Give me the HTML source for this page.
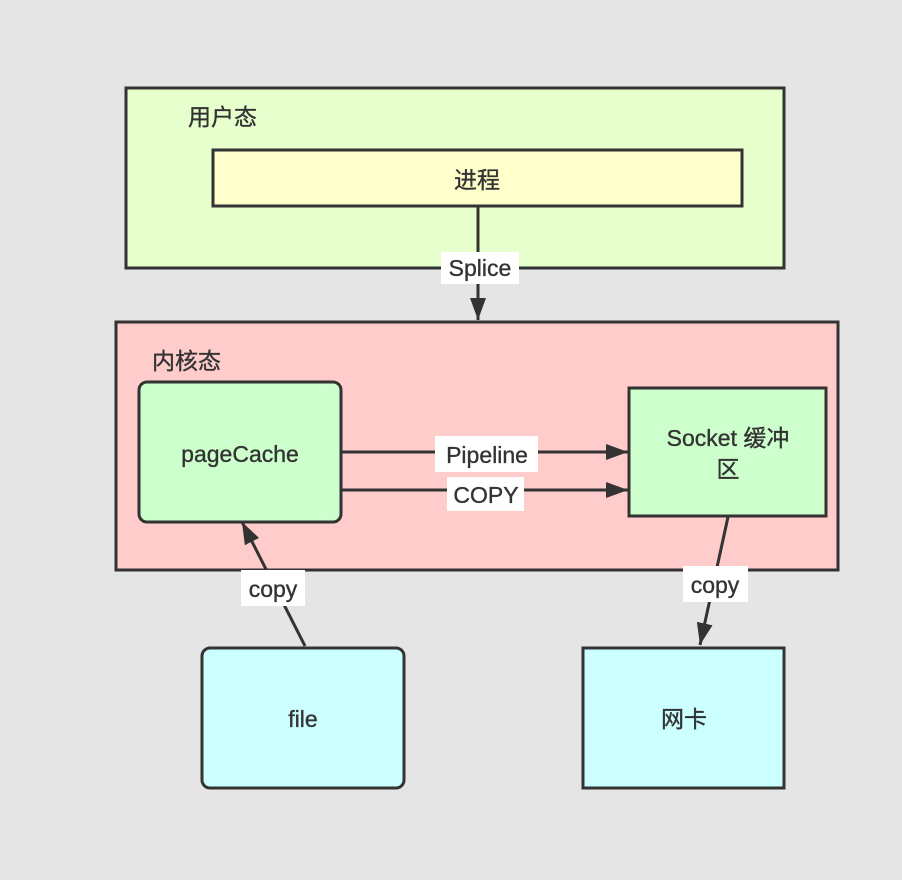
<!DOCTYPE html>
<html><head><meta charset="utf-8"><style>
html,body{margin:0;padding:0;background:#e5e5e5;}
svg{display:block;}
text{font-family:"Liberation Sans","Noto Sans CJK SC",sans-serif;fill:#333;stroke:#333;stroke-width:0.35;}
</style></head><body>
<svg width="902" height="880" viewBox="0 0 902 880" xmlns="http://www.w3.org/2000/svg">
<defs>
<marker id="a" viewBox="0 0 22 16" refX="22" refY="8" markerWidth="22" markerHeight="16" markerUnits="userSpaceOnUse" orient="auto">
<path d="M0,0 L22,8 L0,16 z" fill="#333"/>
</marker>
</defs>
<rect x="0" y="0" width="902" height="880" fill="#e5e5e5"/>
<rect x="126" y="88" width="658" height="180" fill="#e6ffcc" stroke="#333" stroke-width="3"/>
<text x="188" y="125" font-size="23">用户态</text>
<rect x="213" y="150" width="529" height="56" fill="#ffffcc" stroke="#333" stroke-width="3"/>
<text x="477" y="188" font-size="23" text-anchor="middle">进程</text>

<rect x="116" y="322" width="722" height="248" fill="#ffcccc" stroke="#333" stroke-width="3"/>
<text x="152" y="369" font-size="23">内核态</text>
<rect x="139" y="382" width="202" height="140" rx="8" fill="#ccffcc" stroke="#333" stroke-width="3"/>
<text x="240" y="462" font-size="23" text-anchor="middle">pageCache</text>
<rect x="629" y="388" width="197" height="128" fill="#ccffcc" stroke="#333" stroke-width="3"/>
<text x="728" y="446" font-size="23" text-anchor="middle">Socket 缓冲</text>
<text x="728" y="477" font-size="23" text-anchor="middle">区</text>

<rect x="202" y="648" width="202" height="140" rx="8" fill="#ccffff" stroke="#333" stroke-width="3"/>
<text x="303" y="727" font-size="23" text-anchor="middle">file</text>
<rect x="583" y="648" width="201" height="140" fill="#ccffff" stroke="#333" stroke-width="3"/>
<text x="684" y="727" font-size="23" text-anchor="middle">网卡</text>

<line x1="478" y1="206" x2="478" y2="320" stroke="#333" stroke-width="3" marker-end="url(#a)"/>
<line x1="341" y1="452" x2="628" y2="452" stroke="#333" stroke-width="3" marker-end="url(#a)"/>
<line x1="341" y1="490" x2="628" y2="490" stroke="#333" stroke-width="3" marker-end="url(#a)"/>
<line x1="305" y1="646" x2="242" y2="522" stroke="#333" stroke-width="3" marker-end="url(#a)"/>
<line x1="728" y1="517" x2="700" y2="645" stroke="#333" stroke-width="3" marker-end="url(#a)"/>

<rect x="441" y="252" width="78" height="32" fill="#fff"/>
<text x="480" y="276" font-size="23" text-anchor="middle">Splice</text>
<rect x="435" y="436" width="103" height="36" fill="#fff"/>
<text x="487" y="463" font-size="23" text-anchor="middle">Pipeline</text>
<rect x="447" y="477" width="77" height="34" fill="#fff"/>
<text x="486" y="503" font-size="23" text-anchor="middle">COPY</text>
<rect x="241" y="570" width="64" height="36" fill="#fff"/>
<text x="273" y="597" font-size="23" text-anchor="middle">copy</text>
<rect x="683" y="566" width="65" height="36" fill="#fff"/>
<text x="715" y="593" font-size="23" text-anchor="middle">copy</text>
</svg>
</body></html>
